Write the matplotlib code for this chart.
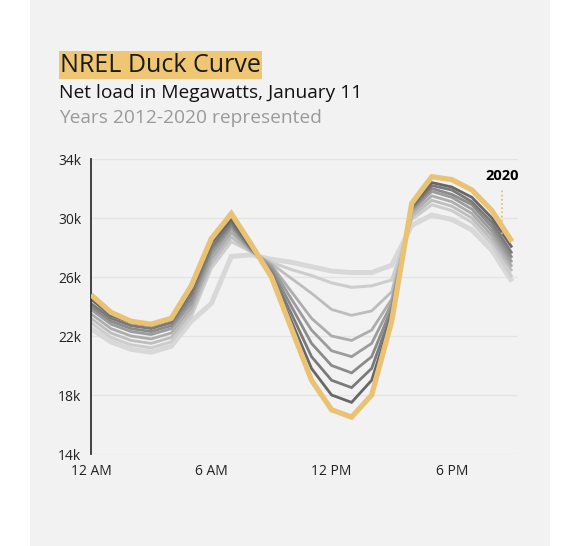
import numpy as np
import matplotlib.pyplot as plt
from matplotlib.patches import Rectangle
from matplotlib.ticker import FuncFormatter, FixedLocator

plt.rcParams['font.family'] = ['Open Sans', 'DejaVu Sans']

# hour of day (0 = midnight), net load in thousands of MW
hours = list(range(22))
years = [2012, 2013, 2014, 2015, 2016, 2017, 2018, 2019, 2020]

load_2012 = [22.5, 21.6, 21.1, 20.9, 21.3, 23.0, 24.2, 27.4, 27.5, 27.2, 27.0, 26.7,
             26.4, 26.3, 26.3, 26.8, 29.5, 30.2, 29.9, 29.2, 27.8, 25.7]
load_2013 = [22.9, 21.9, 21.4, 21.2, 21.6, 23.3, 26.6, 28.4, 27.7, 27.0, 26.5, 26.1,
             25.6, 25.3, 25.4, 25.8, 29.9, 30.9, 30.5, 29.7, 28.2, 26.0]
load_2014 = [23.2, 22.2, 21.7, 21.5, 21.9, 23.6, 26.9, 28.7, 27.7, 26.9, 25.9, 24.9,
             23.8, 23.4, 23.7, 25.0, 30.1, 31.2, 30.8, 30.0, 28.5, 26.4]
load_2015 = [23.5, 22.5, 22.0, 21.8, 22.2, 23.9, 27.2, 29.0, 27.8, 26.8, 25.0, 23.2,
             22.0, 21.7, 22.4, 24.5, 30.3, 31.5, 31.1, 30.3, 28.8, 26.7]
load_2016 = [23.8, 22.8, 22.3, 22.1, 22.5, 24.2, 27.5, 29.3, 27.8, 26.7, 24.5, 22.4,
             21.0, 20.6, 21.5, 24.2, 30.5, 31.8, 31.4, 30.6, 29.1, 27.0]
load_2017 = [24.0, 23.0, 22.5, 22.3, 22.7, 24.5, 27.8, 29.5, 27.9, 26.5, 24.0, 21.5,
             20.0, 19.5, 20.6, 23.9, 30.6, 32.0, 31.6, 30.9, 29.4, 27.3]
load_2018 = [24.2, 23.2, 22.7, 22.5, 22.9, 24.8, 28.0, 29.7, 27.9, 26.3, 23.5, 20.6,
             19.0, 18.5, 19.8, 23.6, 30.7, 32.2, 31.9, 31.1, 29.7, 27.6]
load_2019 = [24.5, 23.4, 22.9, 22.7, 23.1, 25.1, 28.3, 29.9, 28.0, 26.1, 23.0, 19.8,
             18.0, 17.5, 19.0, 23.3, 30.8, 32.4, 32.1, 31.4, 30.0, 28.0]
load_2020 = [24.8, 23.6, 23.0, 22.8, 23.2, 25.4, 28.6, 30.3, 28.2, 26.0, 22.5, 19.0,
             17.0, 16.5, 18.0, 23.0, 31.0, 32.8, 32.6, 31.9, 30.5, 28.4]

series = [load_2012, load_2013, load_2014, load_2015, load_2016,
          load_2017, load_2018, load_2019, load_2020]
colors = ['#d8d8d8', '#cdcdcd', '#bdbdbd', '#adadad', '#9c9c9c',
          '#8b8b8b', '#7a7a7a', '#676767', '#e9c373']
widths = [3.6, 2.2, 2.0, 2.0, 2.0, 2.0, 2.0, 2.0, 3.8]

y_ticks = [14, 18, 22, 26, 30, 34]
x_ticks = [0, 6, 12, 18]
x_labels = ['12 AM', '6 AM', '12 PM', '6 PM']

fig = plt.figure(figsize=(5.74, 5.46), dpi=100)
fig.patch.set_facecolor('white')
fig.patches.append(Rectangle((30 / 574, 0), 520 / 574, 1, transform=fig.transFigure,
                             facecolor='#f2f2f2', edgecolor='none', zorder=-5))

ax = fig.add_axes([91 / 574, 1 - 454 / 546, 427 / 574, 295 / 546])
ax.set_facecolor('none')
ax.set_zorder(2)

for yr, vals, c, lw in zip(years, series, colors, widths):
    ax.plot(hours, vals, color=c, lw=lw, solid_joinstyle='miter',
            solid_capstyle='butt', zorder=3 if yr == 2020 else 2)

ax.set_xlim(0, 21.3)
ax.set_ylim(14, 34)
ax.yaxis.set_major_locator(FixedLocator(y_ticks))
ax.yaxis.set_major_formatter(FuncFormatter(lambda v, p: f"{v:.0f}k"))
ax.set_xticks(x_ticks)
ax.set_xticklabels(x_labels)
ax.grid(axis='y', color='#e4e4e4', lw=1)
ax.set_axisbelow(True)
for s in ['top', 'right', 'bottom']:
    ax.spines[s].set_visible(False)
ax.spines['left'].set_color('#333333')
ax.spines['left'].set_linewidth(1.3)
ax.tick_params(length=0, labelsize=10, colors='#222222', pad=7)

# 2020 label
ax.plot([20.5, 20.5], [28.9, 31.9], color='#e3b868', lw=1.2, ls=(0, (1, 1.5)))
ax.text(20.5, 32.85, '2020', ha='center', va='center', fontsize=10.5,
        fontweight='bold', color='black')

fig.text(60 / 574, 1 - 65 / 546, 'NREL Duck Curve', fontsize=18, color='#1a1a1a',
         va='center', ha='left',
         bbox=dict(boxstyle='square,pad=0.05', facecolor='#efc673', edgecolor='none'))
fig.text(59 / 574, 1 - 93 / 546, 'Net load in Megawatts, January 11', fontsize=13.8,
         color='#111111', va='center', ha='left')
fig.text(59 / 574, 1 - 118 / 546, 'Years 2012-2020 represented', fontsize=13.8,
         color='#9a9a9a', va='center', ha='left')

fig.savefig('out.png', dpi=100, facecolor=fig.get_facecolor())
